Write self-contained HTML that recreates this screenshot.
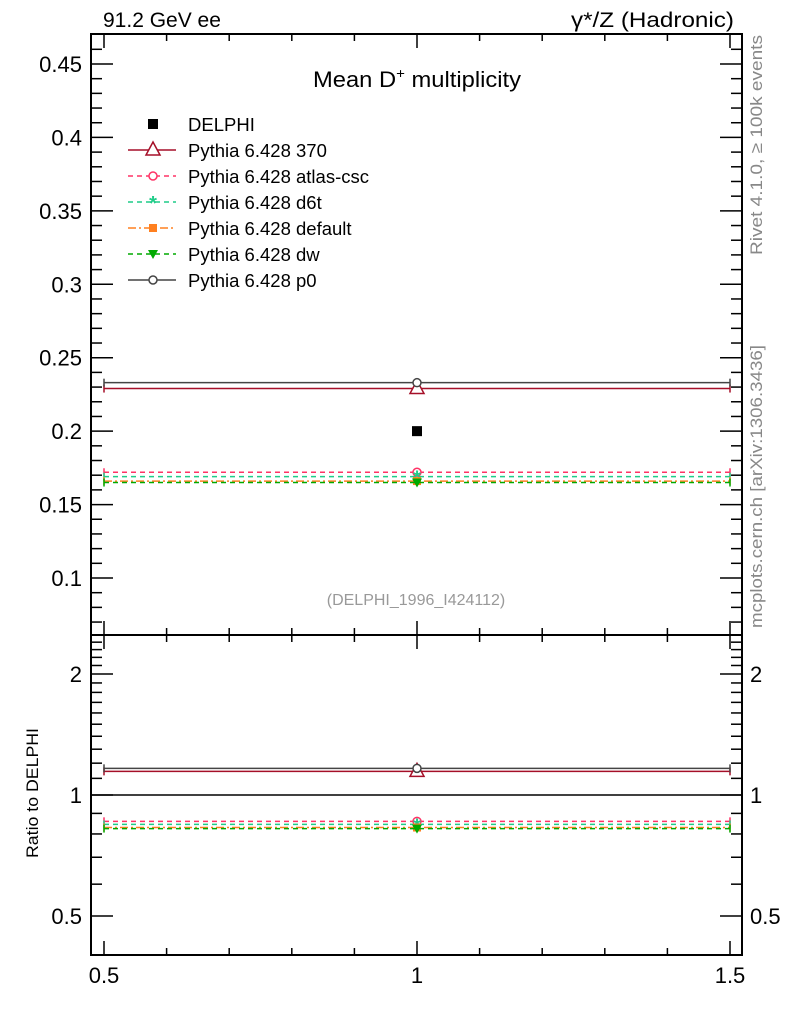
<!DOCTYPE html>
<html><head><meta charset="utf-8"><style>
body{margin:0;background:#fff;}
svg{display:block;font-family:"Liberation Sans",Arial,sans-serif;}
</style></head><body>
<svg id="c" width="786" height="1024" xmlns="http://www.w3.org/2000/svg">
<text x="103" y="27" font-size="21">91.2 GeV ee</text>
<text x="571" y="27" font-size="21" textLength="163" lengthAdjust="spacingAndGlyphs">γ*/Z (Hadronic)</text>
<text x="313" y="87" font-size="22" textLength="208" lengthAdjust="spacingAndGlyphs">Mean D<tspan dy="-9" font-size="14">+</tspan><tspan dy="9"> multiplicity</tspan></text>
<text x="416" y="605" font-size="16" fill="#999" text-anchor="middle">(DELPHI_1996_I424112)</text>
<text transform="translate(762,255) rotate(-90)" font-size="17" fill="#888" textLength="220" lengthAdjust="spacingAndGlyphs">Rivet 4.1.0, ≥ 100k events</text>
<text transform="translate(762,628) rotate(-90)" font-size="17" fill="#888" textLength="283" lengthAdjust="spacingAndGlyphs">mcplots.cern.ch [arXiv:1306.3436]</text>
<text transform="translate(38,858) rotate(-90)" font-size="17" textLength="130" lengthAdjust="spacingAndGlyphs">Ratio to DELPHI</text>
<g id="g"></g>
</svg>
<script>
const categories=[1.0];
const dataValue=[0.200];
const seriesNames=["Pythia 6.428 370","Pythia 6.428 atlas-csc","Pythia 6.428 d6t","Pythia 6.428 default","Pythia 6.428 dw","Pythia 6.428 p0"];
const seriesValues=[0.229,0.172,0.169,0.166,0.165,0.233];
const yTicksMain=[0.1,0.15,0.2,0.25,0.3,0.35,0.4,0.45];
const yTicksRatio=[0.5,1,2];
const xTicks=[0.5,1,1.5];
const binLo=0.5, binHi=1.5;

const L=91,R=742,T=34,M=635,B=955;
const X=v=>104+(v-0.5)*626;
const Y=v=>578-(v-0.1)*1468.6;
const YR=v=>795-121*Math.log2(v);
const g=document.getElementById('g');
const NS='http://www.w3.org/2000/svg';
function el(t,a,p){const e=document.createElementNS(NS,t);for(const k in a)e.setAttribute(k,a[k]);(p||g).appendChild(e);return e;}

let f=el('rect',{x:L,y:T,width:R-L,height:M-T,fill:'none',stroke:'#000','stroke-width':2});

f=el('rect',{x:L,y:M,width:R-L,height:B-M,fill:'none',stroke:'#000','stroke-width':2});


for(let i=0;i<=10;i++){const v=0.5+i*0.1;const x=X(v);const maj=i%5==0;const len=maj?14:7;
 for(const [y0,d] of [[T,1],[M,-1],[M,1],[B,-1]]) el('line',{x1:x,x2:x,y1:y0,y2:y0+d*len,stroke:'#000','stroke-width':1.5});}
xTicks.forEach(v=>{const t=el('text',{x:X(v),y:B+28,'font-size':22,'text-anchor':'middle'});t.textContent=v;
 });

for(let v=0.07;v<=0.4699;v+=0.01){const y=Y(v);const maj=Math.abs(v*20-Math.round(v*20))<1e-6;const len=maj?22:11;
 el('line',{x1:L,x2:L+len,y1:y,y2:y,stroke:'#000','stroke-width':1.5});el('line',{x1:R,x2:R-len,y1:y,y2:y,stroke:'#000','stroke-width':1.5});}
yTicksMain.forEach(v=>{const t=el('text',{x:82,y:Y(v)+8,'font-size':22,'text-anchor':'end'});t.textContent=String(v);
 });

for(let i=4;i<=25;i++){const v=i/10;const y=YR(v);if(y<M||y>B)continue;const maj=(v==0.5||v==1||v==2);const len=maj?22:11;
 el('line',{x1:L,x2:L+len,y1:y,y2:y,stroke:'#000','stroke-width':1.5});el('line',{x1:R,x2:R-len,y1:y,y2:y,stroke:'#000','stroke-width':1.5});}
yTicksRatio.forEach(v=>{for(const [x,a] of [[82,'end'],[750,'start']]){const t=el('text',{x:x,y:YR(v)+8,'font-size':22,'text-anchor':a});t.textContent=String(v);
 }});
el('line',{x1:L,x2:R,y1:YR(1),y2:YR(1),stroke:'#000','stroke-width':1.5});

const colors=['#a50f28','#ff3366','#1fcc88','#ff8020','#00aa00','#444'];
const dashes=['','5,4','5,4','8,3,2,3','5,4',''];
function marker(i,x,y,p){
 const c=colors[i];
 if(i==0) return el('polygon',{points:`${x},${y-8} ${x-7},${y+5} ${x+7},${y+5}`,fill:'#fff',stroke:c,'stroke-width':1.5},p);
 if(i==1) return el('circle',{cx:x,cy:y,r:4,fill:'#fff',stroke:c,'stroke-width':1.5},p);
 if(i==2) return el('text',{x:x,y:y+8,'font-size':20,'text-anchor':'middle',fill:c,'font-weight':'bold'},p);
 if(i==3) return el('rect',{x:x-4,y:y-4,width:8,height:8,fill:c},p);
 if(i==4) return el('polygon',{points:`${x-5},${y-4} ${x+5},${y-4} ${x},${y+5}`,fill:c},p);
 return el('circle',{cx:x,cy:y,r:4,fill:'#fff',stroke:c,'stroke-width':1.5},p);
}
seriesValues.forEach((v,i)=>{
 const grp=el('g',{});
 
 
 const c=colors[i];
 const r=v/dataValue[0];
 for(const y of [Y(v),YR(r)]){
  el('line',{x1:X(binLo),x2:X(binHi),y1:y,y2:y,stroke:c,'stroke-width':1.5,'stroke-dasharray':dashes[i]},grp);
  el('line',{x1:X(binLo),x2:X(binLo),y1:y-4,y2:y+4,stroke:c,'stroke-width':1.5},grp);
  el('line',{x1:X(binHi),x2:X(binHi),y1:y-4,y2:y+4,stroke:c,'stroke-width':1.5},grp);
  const m=marker(i,X(categories[0]),y,grp);if(i==2)m.textContent='*';
 }
});
const d=el('rect',{x:X(categories[0])-5,y:Y(dataValue[0])-5,width:10,height:10,fill:'#000'});


const lg=el('g',{});
const e0=el('g',{},lg);
el('rect',{x:148,y:119,width:10,height:10,fill:'#000'},e0);
let t=el('text',{x:188,y:131,'font-size':18.5},e0);t.textContent='DELPHI';
seriesNames.forEach((n,i)=>{const y=150+i*26;
 const e=el('g',{},lg);
 el('line',{x1:128,x2:176,y1:y,y2:y,stroke:colors[i],'stroke-width':1.5,'stroke-dasharray':dashes[i]},e);
 const m=marker(i,153,y,e);if(i==2)m.textContent='*';
 const tt=el('text',{x:188,y:y+7,'font-size':18.5},e);tt.textContent=n;});
</script>
</body></html>
